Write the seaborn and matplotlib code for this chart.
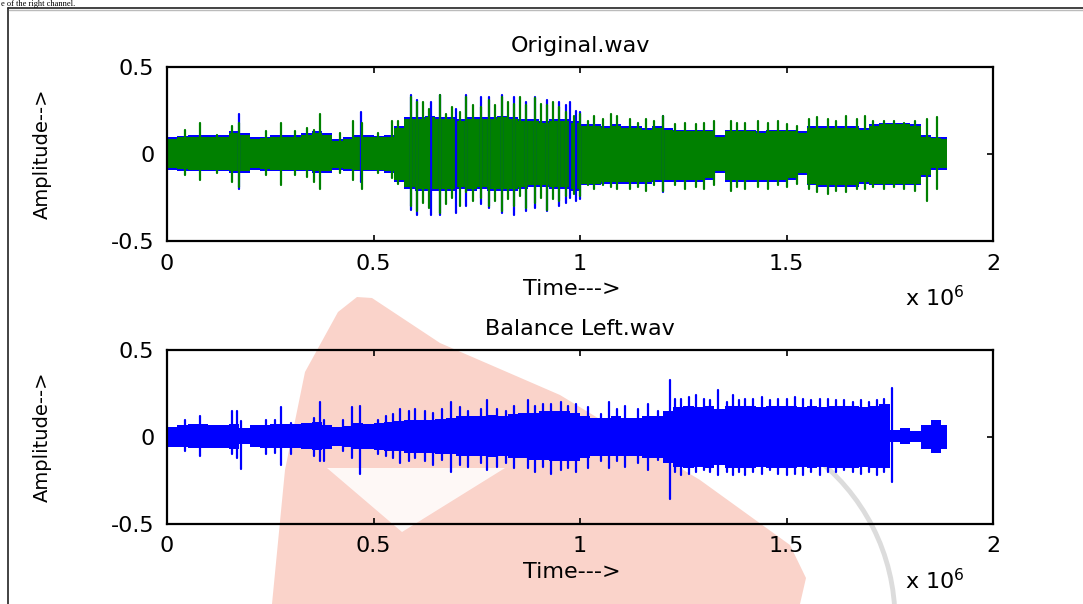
import numpy as np
import pandas as pd
import matplotlib
matplotlib.use("Agg")
import matplotlib.pyplot as plt
import seaborn as sns
from matplotlib.patches import Polygon, Arc
from matplotlib.lines import Line2D

# ---------------- data (time in units of 1e6 samples) ----------------
# dense body envelope of each signal, one value per 0.025e6-sample bin
top_green_hi = [0.085,0.095, 0.10,0.10, 0.10,0.10, 0.12,0.11, 0.085,0.09, 0.10,0.10, 0.10,0.11, 0.12,0.11,
                0.075,0.085, 0.10,0.10, 0.095,0.10, 0.15,0.20, 0.20,0.21, 0.20,0.20, 0.19,0.20, 0.20,0.20,
                0.21,0.20, 0.19,0.19, 0.18,0.19, 0.19,0.18, 0.16,0.16, 0.15,0.16, 0.15,0.15, 0.14,0.15,
                0.14,0.13, 0.13,0.13, 0.13,0.10, 0.13,0.13, 0.13,0.12, 0.13,0.13, 0.13,0.12, 0.15,0.15,
                0.15,0.15, 0.15,0.14, 0.16,0.17, 0.17,0.17, 0.16,0.10, 0.09,0.085]
top_green_lo = [-0.08,-0.085, -0.09,-0.09, -0.09,-0.09, -0.10,-0.10, -0.08,-0.085, -0.09,-0.09, -0.09,-0.09,
                -0.10,-0.10, -0.08,-0.085, -0.09,-0.09, -0.09,-0.10, -0.15,-0.19, -0.20,-0.20, -0.20,-0.20,
                -0.19,-0.20, -0.19,-0.20, -0.20,-0.20, -0.19,-0.18, -0.18,-0.19, -0.19,-0.20, -0.17,-0.17,
                -0.16,-0.16, -0.16,-0.16, -0.16,-0.15, -0.15,-0.15, -0.15,-0.15, -0.14,-0.10, -0.15,-0.15,
                -0.15,-0.15, -0.15,-0.15, -0.14,-0.11, -0.17,-0.18, -0.18,-0.18, -0.18,-0.16, -0.17,-0.17,
                -0.17,-0.17, -0.17,-0.12, -0.08,-0.08]
top_blue_hi = [0.095,0.105, 0.11,0.11, 0.11,0.11, 0.13,0.12, 0.095,0.10, 0.11,0.11, 0.11,0.12, 0.13,0.12,
               0.085,0.095, 0.11,0.11, 0.105,0.11, 0.16,0.21, 0.21,0.22, 0.21,0.21, 0.20,0.21, 0.21,0.21,
               0.22,0.21, 0.20,0.20, 0.19,0.20, 0.20,0.19, 0.17,0.17, 0.16,0.17, 0.16,0.16, 0.15,0.16,
               0.15,0.14, 0.14,0.14, 0.14,0.11, 0.14,0.14, 0.14,0.13, 0.14,0.14, 0.14,0.13, 0.16,0.16,
               0.16,0.16, 0.16,0.15, 0.17,0.18, 0.18,0.18, 0.17,0.11, 0.10,0.095]
top_blue_lo = [-0.09,-0.095, -0.10,-0.10, -0.10,-0.10, -0.11,-0.11, -0.09,-0.095, -0.10,-0.10, -0.10,-0.10,
               -0.11,-0.11, -0.09,-0.095, -0.10,-0.10, -0.10,-0.11, -0.16,-0.20, -0.21,-0.21, -0.21,-0.21,
               -0.20,-0.21, -0.20,-0.21, -0.21,-0.21, -0.20,-0.19, -0.19,-0.20, -0.20,-0.21, -0.18,-0.18,
               -0.17,-0.17, -0.17,-0.17, -0.17,-0.16, -0.16,-0.16, -0.16,-0.16, -0.15,-0.11, -0.16,-0.16,
               -0.16,-0.16, -0.16,-0.16, -0.15,-0.12, -0.18,-0.19, -0.19,-0.19, -0.19,-0.17, -0.18,-0.18,
               -0.18,-0.18, -0.18,-0.13, -0.09,-0.09]
bot_hi = [0.06,0.07, 0.075,0.075, 0.07,0.07, 0.075,0.05, 0.07,0.07, 0.075,0.075, 0.075,0.08, 0.085,0.07,
          0.06,0.065, 0.08,0.075, 0.08,0.085, 0.09,0.10, 0.10,0.10, 0.105,0.11, 0.12,0.12, 0.12,0.125,
          0.12,0.13, 0.14,0.14, 0.15,0.15, 0.15,0.14, 0.12,0.11, 0.11,0.12, 0.11,0.11, 0.12,0.12,
          0.15,0.17, 0.18,0.17, 0.18,0.16, 0.18,0.18, 0.18,0.17, 0.18,0.18, 0.18,0.17, 0.18,0.17,
          0.18,0.18, 0.18,0.17, 0.18,0.19, 0.04,0.05, 0.035,0.07, 0.10,0.07]
bot_lo = [-0.055,-0.06, -0.065,-0.065, -0.065,-0.065, -0.07,-0.04, -0.06,-0.065, -0.065,-0.065, -0.065,-0.07,
          -0.075,-0.07, -0.05,-0.06, -0.07,-0.07, -0.075,-0.08, -0.08,-0.09, -0.09,-0.09, -0.095,-0.10,
          -0.11,-0.11, -0.11,-0.115, -0.11,-0.12, -0.12,-0.13, -0.13,-0.14, -0.14,-0.14, -0.12,-0.11,
          -0.11,-0.11, -0.11,-0.11, -0.12,-0.12, -0.15,-0.17, -0.18,-0.17, -0.18,-0.16, -0.18,-0.18,
          -0.18,-0.17, -0.18,-0.18, -0.18,-0.17, -0.18,-0.17, -0.18,-0.18, -0.18,-0.17, -0.18,-0.18,
          -0.03,-0.04, -0.03,-0.07, -0.09,-0.07]
signal_end = 1.888

# isolated peaks (time, max, min)
tg_t = [0.043,0.08,0.12,0.158,0.174, 0.24,0.275,0.31,0.34,0.355, 0.37,0.42,0.45,0.472,0.51,
        0.545,0.56,0.59,0.605,0.62, 0.635,0.66,0.675,0.69,0.71, 0.725,0.74,0.76,0.78,0.795,
        0.81,0.825,0.84,0.855,0.87, 0.89,0.905,0.92,0.935,0.95, 0.965,0.985,1.0,1.02,1.035,
        1.055,1.075,1.09,1.12,1.14, 1.16,1.18,1.2,1.23,1.255, 1.28,1.3,1.325,1.365,1.38,
        1.4,1.43,1.455,1.48,1.5, 1.525,1.555,1.575,1.6,1.62, 1.645,1.67,1.69,1.71,1.735,
        1.76,1.785,1.81,1.84,1.865]
tg_up = [0.14,0.18,0.11,0.16,0.18, 0.13,0.18,0.13,0.15,0.14, 0.23,0.12,0.19,0.18,0.12,
         0.19,0.19,0.33,0.30,0.30, 0.26,0.34,0.23,0.27,0.24, 0.33,0.28,0.27,0.31,0.28,
         0.33,0.30,0.29,0.33,0.28, 0.32,0.29,0.28,0.30,0.27, 0.24,0.22,0.23,0.19,0.22,
         0.20,0.23,0.22,0.20,0.18, 0.20,0.19,0.22,0.17,0.18, 0.17,0.18,0.19,0.19,0.18,
         0.18,0.19,0.18,0.19,0.17, 0.16,0.20,0.21,0.20,0.19, 0.22,0.20,0.22,0.19,0.19,
         0.19,0.18,0.19,0.20,0.21]
tg_dn = [-0.12,-0.15,-0.11,-0.16,-0.19, -0.12,-0.18,-0.12,-0.13,-0.16, -0.20,-0.11,-0.15,-0.20,-0.11,
         -0.14,-0.17,-0.30,-0.33,-0.28, -0.31,-0.34,-0.29,-0.25,-0.30, -0.22,-0.27,-0.25,-0.30,-0.27,
         -0.33,-0.26,-0.30,-0.24,-0.31, -0.28,-0.25,-0.32,-0.26,-0.27, -0.24,-0.23,-0.24,-0.18,-0.20,
         -0.18,-0.19,-0.20,-0.20,-0.19, -0.21,-0.18,-0.21,-0.18,-0.20, -0.19,-0.20,-0.18,-0.21,-0.19,
         -0.20,-0.19,-0.20,-0.18,-0.19, -0.17,-0.20,-0.22,-0.23,-0.21, -0.22,-0.20,-0.20,-0.19,-0.20,
         -0.19,-0.20,-0.21,-0.27,-0.20]
tb_t = [0.174,0.47,0.59,0.605,0.64, 0.66,0.70,0.725,0.76,0.78, 0.81,0.84,0.87,0.89,0.92,
        0.95,0.965,0.975,0.99,1.0, 1.2]
tb_up = [0.23,0.24,0.34,0.31,0.30, 0.34,0.26,0.34,0.33,0.33, 0.34,0.33,0.30,0.33,0.31,
         0.30,0.28,0.30,0.25,0.24, 0.22]
tb_dn = [-0.20,-0.16,-0.32,-0.35,-0.35, -0.35,-0.34,-0.30,-0.29,-0.31, -0.34,-0.35,-0.33,-0.31,-0.33,
         -0.30,-0.28,-0.25,-0.27,-0.26, -0.22]
b_t = [0.043,0.08,0.158,0.17,0.178, 0.239,0.262,0.275,0.30,0.355, 0.37,0.38,0.425,0.448,0.468,
       0.51,0.53,0.548,0.565,0.585, 0.60,0.625,0.645,0.665,0.688, 0.71,0.73,0.76,0.775,0.80,
       0.82,0.84,0.875,0.89,0.91, 0.93,0.955,0.97,0.99,1.02, 1.05,1.07,1.09,1.11,1.14,
       1.165,1.19,1.217,1.23,1.245, 1.265,1.28,1.30,1.315,1.335, 1.355,1.37,1.385,1.40,1.42,
       1.44,1.46,1.48,1.50,1.52, 1.54,1.56,1.58,1.60,1.62, 1.64,1.66,1.68,1.70,1.72,
       1.735,1.755]
b_up = [0.10,0.12,0.15,0.15,0.09, 0.10,0.10,0.17,0.08,0.11, 0.20,0.10,0.10,0.17,0.18,
        0.10,0.12,0.13,0.16,0.15, 0.16,0.15,0.14,0.16,0.20, 0.17,0.15,0.16,0.21,0.16,
        0.15,0.18,0.21,0.18,0.19, 0.19,0.20,0.18,0.19,0.17, 0.13,0.20,0.16,0.18,0.16,
        0.19,0.15,0.33,0.22,0.22, 0.23,0.24,0.22,0.21,0.27, 0.20,0.24,0.21,0.22,0.22,
        0.23,0.21,0.22,0.22,0.23, 0.22,0.21,0.22,0.22,0.21, 0.21,0.20,0.21,0.20,0.21,
        0.22,0.28]
b_dn = [-0.08,-0.11,-0.10,-0.12,-0.185, -0.10,-0.09,-0.16,-0.10,-0.11, -0.14,-0.14,-0.08,-0.12,-0.21,
        -0.10,-0.11,-0.12,-0.15,-0.14, -0.12,-0.14,-0.16,-0.13,-0.20, -0.16,-0.17,-0.15,-0.19,-0.17,
        -0.15,-0.18,-0.18,-0.20,-0.17, -0.21,-0.19,-0.18,-0.20,-0.18, -0.14,-0.18,-0.14,-0.17,-0.15,
        -0.19,-0.13,-0.355,-0.20,-0.22, -0.21,-0.20,-0.19,-0.20,-0.22, -0.20,-0.22,-0.20,-0.22,-0.20,
        -0.21,-0.19,-0.21,-0.22,-0.21, -0.22,-0.20,-0.22,-0.20,-0.20, -0.19,-0.20,-0.21,-0.20,-0.22,
        -0.20,-0.26]

x_ticks = [0, 0.5, 1, 1.5, 2]
x_labels = ["0", "0.5", "1", "1.5", "2"]
y_ticks = [-0.5, 0, 0.5]
y_labels = ["-0.5", "0", "0.5"]
titles = ["Original.wav", "Balance Left.wav"]

# ---------------- style ----------------
sns.set_theme(style="ticks")
plt.rcParams["font.family"] = ["DejaVu Sans"]
plt.rcParams["mathtext.default"] = "regular"

W, H = 1083, 604
fig = plt.figure(figsize=(W / 100, H / 100), dpi=100)
fig.patch.set_facecolor("white")


def fx(x, y):
    return (x / W, 1 - y / H)


BLUE = "#0000ff"
GREEN = "#008000"

# watermark (background logo)
wm = Polygon([fx(357, 297), fx(338, 312), fx(305, 372), fx(285, 470), fx(272, 604),
              fx(800, 604), fx(806, 578), fx(790, 545), fx(700, 480), fx(560, 395),
              fx(440, 343), fx(372, 298)],
             closed=True, transform=fig.transFigure, facecolor="#fad3ca",
             edgecolor="none", zorder=-5)
fig.add_artist(wm)
notch = Polygon([fx(327, 468), fx(402, 532), fx(505, 468)],
                closed=True, transform=fig.transFigure, facecolor="white", alpha=0.85,
                edgecolor="none", zorder=-4)
fig.add_artist(notch)
arc = Arc(fx(690, 620), 2 * 205 / W, 2 * 205 / H, theta1=0, theta2=68,
          transform=fig.transFigure, color="#dcdcdc", lw=3.5, zorder=-4)
fig.add_artist(arc)

# outer frame + caption fragment above it
fig.add_artist(Line2D([8 / W, 8 / W], [0, 1 - 8 / H], transform=fig.transFigure, color="#222222", lw=1.2))
fig.add_artist(Line2D([8 / W, 1], [1 - 8 / H, 1 - 8 / H], transform=fig.transFigure, color="#222222", lw=1.2))
fig.add_artist(Line2D([9 / W, 1], [1 - 10 / H, 1 - 10 / H], transform=fig.transFigure, color="#bbbbbb", lw=1.0))
fig.text(1 / W, 1 - 6 / H, "e of the right channel.", family="Liberation Serif", fontsize=6,
         va="baseline", ha="left", color="black")


def spikes_df(ts, ups, dns):
    rows = []
    for i, (t, u, d) in enumerate(zip(ts, ups, dns)):
        rows.append((i, t, d))
        rows.append((i, t, u))
    return pd.DataFrame(rows, columns=["id", "t", "amp"])


def body(ax, hi, lo, color):
    edges = np.append(np.arange(len(hi)) * 0.025, signal_end)
    ax.fill_between(edges, np.append(hi, hi[-1]), np.append(lo, lo[-1]),
                    step="post", color=color, lw=0, zorder=2)


def spikes(ax, ts, ups, dns, color):
    df = spikes_df(ts, ups, dns)
    sns.lineplot(data=df, x="t", y="amp", units="id", estimator=None, sort=False,
                 color=color, linewidth=1.6, ax=ax, legend=False, zorder=3)


axes_px = [(67, 241), (350, 524)]
axs = []
for (top, bot) in axes_px:
    ax = fig.add_axes([167 / W, 1 - bot / H, 826 / W, (bot - top) / H])
    ax.set_facecolor("none")
    ax.set_zorder(1)
    axs.append(ax)

ax1, ax2 = axs
body(ax1, top_blue_hi, top_blue_lo, BLUE)
spikes(ax1, tb_t, tb_up, tb_dn, BLUE)
body(ax1, top_green_hi, top_green_lo, GREEN)
spikes(ax1, tg_t, tg_up, tg_dn, GREEN)

body(ax2, bot_hi, bot_lo, BLUE)
spikes(ax2, b_t, b_up, b_dn, BLUE)

for ax, title, (top, bot) in zip(axs, titles, axes_px):
    ax.set_xlim(0, 2)
    ax.set_ylim(-0.5, 0.5)
    ax.set_xticks(x_ticks)
    ax.set_xticklabels(x_labels)
    ax.set_yticks(y_ticks)
    ax.set_yticklabels(y_labels)
    ax.tick_params(direction="in", top=True, right=True, length=4.5, width=1.2,
                   labelsize=16, colors="black", pad=9)
    ax.tick_params(axis="y", pad=9)
    for s in ax.spines.values():
        s.set_linewidth(1.6)
        s.set_color("black")
    ax.set_title(title, fontsize=16, pad=11, color="black")
    ax.set_xlabel("Time--->", fontsize=16, color="black")
    ax.set_ylabel("Amplitude-->", fontsize=14, color="black")
    ax.xaxis.set_label_coords(0.49, -0.22)
    ax.yaxis.set_label_coords(-0.14, 0.5)
    fig.text(905 / W, 1 - (bot + 57) / H, "x 10$^{6}$", fontsize=16, ha="left",
             va="center", color="black")

fig.savefig("out.png", dpi=100)
